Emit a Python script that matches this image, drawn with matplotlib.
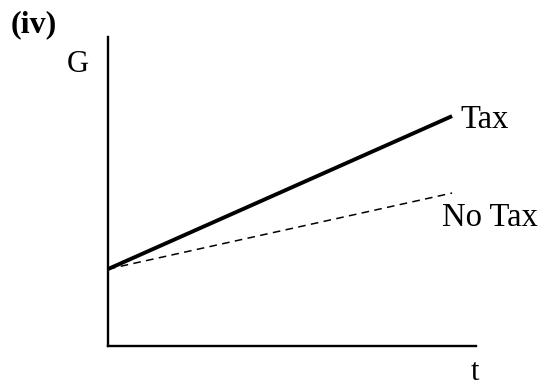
import matplotlib
matplotlib.use("Agg")
import matplotlib.pyplot as plt

plt.rcParams['font.family'] = ['Liberation Serif', 'DejaVu Serif']

# data
t_vals = [0.0, 9.35]
tax_vals = [2.49, 7.44]
no_tax_vals = [2.49, 4.95]
labels = ["Tax", "No Tax"]

W, H = 547, 388
fig = plt.figure(figsize=(W / 100, H / 100), dpi=100)
ax = fig.add_axes([108 / W, (H - 346) / H, 368 / W, 309 / H])
ax.set_xlim(0, 10)
ax.set_ylim(0, 10)

ax.plot(t_vals, tax_vals, color='black', lw=2.8, solid_capstyle='butt')
ax.plot(t_vals, no_tax_vals, color='black', lw=1.1, dashes=(5, 3.5))

for s in ['top', 'right']:
    ax.spines[s].set_visible(False)
ax.spines['left'].set_linewidth(1.7)
ax.spines['bottom'].set_linewidth(1.7)
ax.set_xticks([])
ax.set_yticks([])

ax.text(9.57, 7.06, labels[0], fontsize=23.5, va='baseline', ha='left', clip_on=False)
ax.text(9.08, 3.88, labels[1], fontsize=23.5, va='baseline', ha='left', clip_on=False)
ax.text(9.97, -1.10, "t", fontsize=22, va='baseline', ha='center', clip_on=False)
ax.text(-1.12, 8.87, "G", fontsize=22, va='baseline', ha='left', clip_on=False)
fig.text(11 / W, 1 - 32 / H, "(iv)", fontsize=23, fontweight='bold', va='baseline', ha='left')

fig.savefig("out.png", dpi=100)
